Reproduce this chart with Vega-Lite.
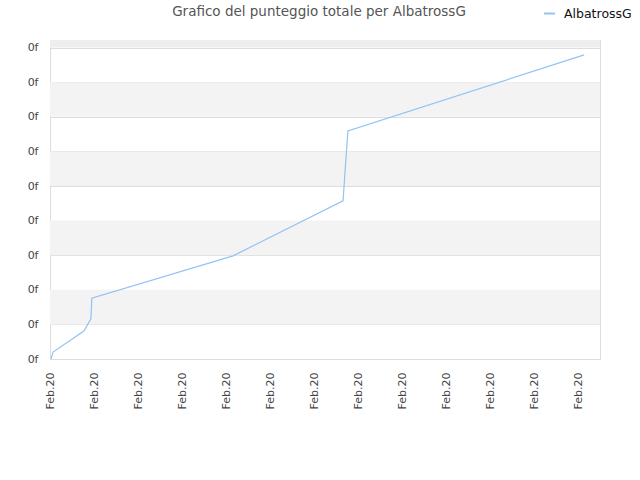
{
  "$schema": "https://vega.github.io/schema/vega-lite/v6.json",
  "width": 550,
  "height": 319,
  "autosize": "none",
  "padding": {"left": 50, "top": 40, "right": 40, "bottom": 121},
  "background": "white",
  "title": {
    "text": "Grafico del punteggio totale per AlbatrossG",
    "font": "DejaVu Sans",
    "fontSize": 13.5,
    "fontWeight": "normal",
    "color": "#555555",
    "anchor": "middle",
    "frame": "group",
    "dx": -6,
    "offset": -11
  },
  "datasets": {
    "bands": [
      {"lo": 1, "hi": 2},
      {"lo": 3, "hi": 4},
      {"lo": 5, "hi": 6},
      {"lo": 7, "hi": 8},
      {"lo": 9, "hi": 9.22}
    ],
    "score": [
      {"t": 0.02, "v": 0, "who": "AlbatrossG"},
      {"t": 0.07, "v": 0.2, "who": "AlbatrossG"},
      {"t": 0.77, "v": 0.81, "who": "AlbatrossG"},
      {"t": 0.93, "v": 1.16, "who": "AlbatrossG"},
      {"t": 0.95, "v": 1.76, "who": "AlbatrossG"},
      {"t": 4.16, "v": 2.98, "who": "AlbatrossG"},
      {"t": 6.66, "v": 4.57, "who": "AlbatrossG"},
      {"t": 6.77, "v": 6.59, "who": "AlbatrossG"},
      {"t": 12.14, "v": 8.79, "who": "AlbatrossG"}
    ]
  },
  "layer": [
    {
      "data": {"name": "bands"},
      "transform": [{"filter": "datum.lo < 9"}],
      "mark": {"type": "rect", "color": "#f3f3f3"},
      "encoding": {
        "y": {
          "field": "lo",
          "type": "quantitative",
          "scale": {"domain": [0, 9.22], "nice": false},
          "axis": {
            "title": null,
            "values": [0, 1, 2, 3, 4, 5, 6, 7, 8, 9],
            "tickCount": 10,
            "labelExpr": "'0f'",
            "labelFont": "DejaVu Sans",
            "labelFontSize": 11,
            "labelColor": "#444444",
            "labelPadding": 12,
            "labelOverlap": false,
            "ticks": false,
            "domain": false,
            "grid": true,
            "gridColor": "#dddddd",
            "gridWidth": 1
          }
        },
        "y2": {"field": "hi"}
      }
    },
    {
      "data": {"name": "bands"},
      "transform": [{"filter": "datum.lo >= 9"}],
      "mark": {"type": "rect", "color": "#eeeeee"},
      "encoding": {
        "y": {
          "field": "lo",
          "type": "quantitative",
          "axis": {
            "title": null,
            "values": [0, 1, 2, 3, 4, 5, 6, 7, 8, 9],
            "tickCount": 10,
            "labelExpr": "'0f'",
            "labelFont": "DejaVu Sans",
            "labelFontSize": 11,
            "labelColor": "#444444",
            "labelPadding": 12,
            "labelOverlap": false,
            "ticks": false,
            "domain": false,
            "grid": true,
            "gridColor": "#dddddd",
            "gridWidth": 1
          }
        },
        "y2": {"field": "hi"}
      }
    },
    {
      "data": {"name": "score"},
      "mark": {"type": "line", "strokeWidth": 1.2, "interpolate": "linear"},
      "encoding": {
        "x": {
          "field": "t",
          "type": "quantitative",
          "scale": {"domain": [0, 12.5], "nice": false, "zero": false},
          "axis": {
            "title": null,
            "values": [0, 1, 2, 3, 4, 5, 6, 7, 8, 9, 10, 11, 12],
            "labelExpr": "'Feb.20'",
            "labelAngle": -90,
            "labelAlign": "right",
            "labelBaseline": "middle",
            "labelFont": "DejaVu Sans",
            "labelFontSize": 11,
            "labelColor": "#444444",
            "labelPadding": 13,
            "labelOverlap": false,
            "ticks": false,
            "domain": false,
            "grid": false
          }
        },
        "y": {
          "field": "v",
          "type": "quantitative",
          "axis": {
            "title": null,
            "values": [0, 1, 2, 3, 4, 5, 6, 7, 8, 9],
            "tickCount": 10,
            "labelExpr": "'0f'",
            "labelFont": "DejaVu Sans",
            "labelFontSize": 11,
            "labelColor": "#444444",
            "labelPadding": 12,
            "labelOverlap": false,
            "ticks": false,
            "domain": false,
            "grid": true,
            "gridColor": "#dddddd",
            "gridWidth": 1
          }
        },
        "color": {
          "field": "who",
          "type": "nominal",
          "scale": {"range": ["#92c3f3"]},
          "legend": {
            "title": null,
            "orient": "none",
            "legendX": 493,
            "legendY": -33,
            "symbolType": "stroke",
            "symbolSize": 120,
            "symbolStrokeWidth": 2,
            "labelOffset": 8,
            "labelFont": "DejaVu Sans",
            "labelFontSize": 12.5,
            "labelColor": "#111111"
          }
        }
      }
    }
  ],
  "config": {
    "view": {"stroke": "#dddddd"}
  }
}
